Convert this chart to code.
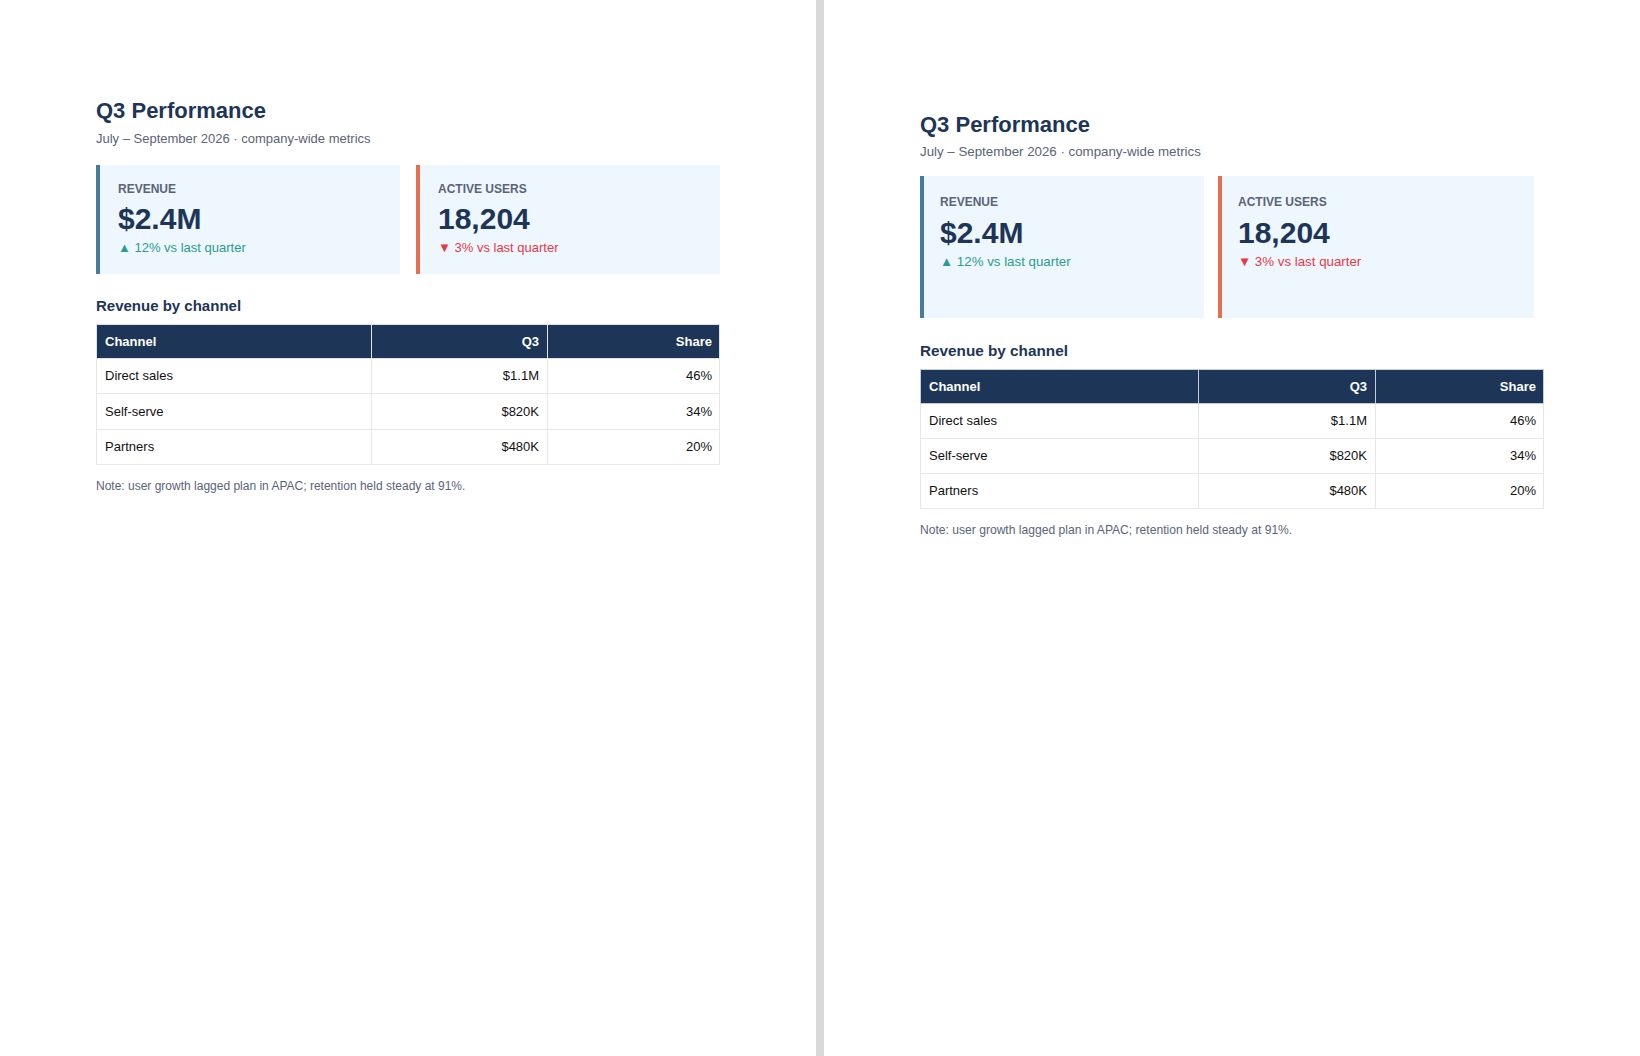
<!DOCTYPE html>
<html>
<head>
<meta charset="utf-8">
<script src="https://cdn.jsdelivr.net/npm/chart.js@4"></script>
<style>
  html, body { margin: 0; padding: 0; background: #ffffff; }
  body { width: 1640px; height: 1056px; position: relative; overflow: hidden;
         font-family: "Liberation Sans", Arial, Helvetica, sans-serif; }
  .abs { position: absolute; white-space: nowrap; }
  .divider { position: absolute; left: 816px; top: 0; width: 8px; height: 1056px; background: #d9d9d9; }
</style>
</head>
<body>
<div class="divider"></div>
<script>
// ---- data ----
const reportTitle = "Q3 Performance";
const reportSubtitle = "July \u2013 September 2026 \u00b7 company-wide metrics";
const kpiLabels = ["REVENUE", "ACTIVE USERS"];
const kpiValues = ["$2.4M", "18,204"];
const kpiDeltas = ["12%", "3%"];
const kpiDirections = ["up", "down"];
const sectionTitle = "Revenue by channel";
const tableHeaders = ["Channel", "Q3", "Share"];
const channels = ["Direct sales", "Self-serve", "Partners"];
const q3Revenue = ["$1.1M", "$820K", "$480K"];
const sharePct = [46, 34, 20];
const noteText = "Note: user growth lagged plan in APAC; retention held steady at 91%.";

// ---- styles / layout ----
const NAVY = "#1d3557", GRAY = "#5a6478", GREEN = "#2a9d8f", RED = "#e63946";
const CARD_BG = "#eef6fe", CARD_BORDERS = ["#457b9d", "#e76f51"];

const panels = [
  { titleX: 96, titleBase: 118.5, subBase: 144, cardTop: 165, cardH: 109,
    cards: [[96, 304], [416, 304]], pad: 18, labelBase: 193, valueBase: 229, deltaBase: 253,
    headBase: 310.7, tableTop: 324, rowHs: [34, 35, 36, 35], cols: [96, 371, 547, 720],
    noteBase: 490, hdrDiv: "#dfe4ea", fsSub: 13, fsDelta: 13, fsNote: 12, fsHead: 15 },
  { titleX: 920, titleBase: 132.7, subBase: 156.7, cardTop: 176, cardH: 142,
    cards: [[920, 284], [1218, 316]], pad: 16, labelBase: 206, valueBase: 243, deltaBase: 266.7,
    headBase: 356.7, tableTop: 369, rowHs: [34, 35, 35, 35], cols: [920, 1197.5, 1375, 1544],
    noteBase: 535, hdrDiv: "#c3ccd7", fsSub: 13.3, fsDelta: 13.3, fsNote: 12.1, fsHead: 15.3 }
];

function text(str, x, base, fs, weight, color, align) {
  const L = Math.round(fs * 1.2);
  const d = document.createElement("div");
  d.className = "abs";
  d.textContent = str;
  d.style.fontSize = fs + "px";
  d.style.lineHeight = L + "px";
  d.style.fontWeight = weight;
  d.style.color = color;
  d.style.top = (base - (L / 2 + 0.3465 * fs)) + "px";
  if (align === "right") {
    d.style.left = (x - 400) + "px";
    d.style.width = "400px";
    d.style.textAlign = "right";
  } else {
    d.style.left = x + "px";
  }
  document.body.appendChild(d);
  return d;
}
function box(x, y, w, h, css) {
  const d = document.createElement("div");
  d.style.position = "absolute";
  d.style.left = x + "px"; d.style.top = y + "px";
  d.style.width = w + "px"; d.style.height = h + "px";
  d.style.boxSizing = "border-box";
  Object.assign(d.style, css || {});
  document.body.appendChild(d);
  return d;
}

panels.forEach(p => {
  text(reportTitle, p.titleX, p.titleBase, 22, "bold", NAVY);
  text(reportSubtitle, p.titleX, p.subBase, p.fsSub, "normal", GRAY);

  p.cards.forEach((c, i) => {
    box(c[0], p.cardTop, c[1], p.cardH, { background: CARD_BG, borderLeft: "4px solid " + CARD_BORDERS[i] });
    const tx = c[0] + 4 + p.pad;
    text(kpiLabels[i], tx, p.labelBase, 12, "bold", GRAY);
    text(kpiValues[i], tx, p.valueBase, 30, "bold", NAVY);
    const up = kpiDirections[i] === "up";
    text((up ? "\u25B2 " : "\u25BC ") + kpiDeltas[i] + " vs last quarter", tx, p.deltaBase, p.fsDelta, "normal", up ? GREEN : RED);
  });

  text(sectionTitle, p.titleX, p.headBase, p.fsHead, "bold", NAVY);

  // table
  const rows = [tableHeaders].concat(channels.map((ch, i) => [ch, q3Revenue[i], sharePct[i] + "%"]));
  let y = p.tableTop;
  rows.forEach((r, ri) => {
    const h = p.rowHs[ri];
    r.forEach((cell, ci) => {
      const x0 = p.cols[ci], x1 = p.cols[ci + 1];
      const isHead = ri === 0;
      box(x0, y, x1 - x0 + (ci === 2 ? 0 : 1), h + 1, {
        background: isHead ? NAVY : "#ffffff",
        border: "1px solid " + (isHead ? p.hdrDiv : "#e8e8e8"),
        zIndex: isHead ? 2 : 1
      });
      const base = y + h / 2 + 0.8 + 0.3465 * 13;
      const t = ci === 0
        ? text(cell, x0 + 9, base, 13, isHead ? "bold" : "normal", isHead ? "#ffffff" : "#111111")
        : text(cell, x1 - 8, base, 13, isHead ? "bold" : "normal", isHead ? "#ffffff" : "#111111", "right");
      t.style.zIndex = 3;
    });
    y += h;
  });

  text(noteText, p.titleX, p.noteBase, p.fsNote, "normal", GRAY);
});
</script>
</body>
</html>
